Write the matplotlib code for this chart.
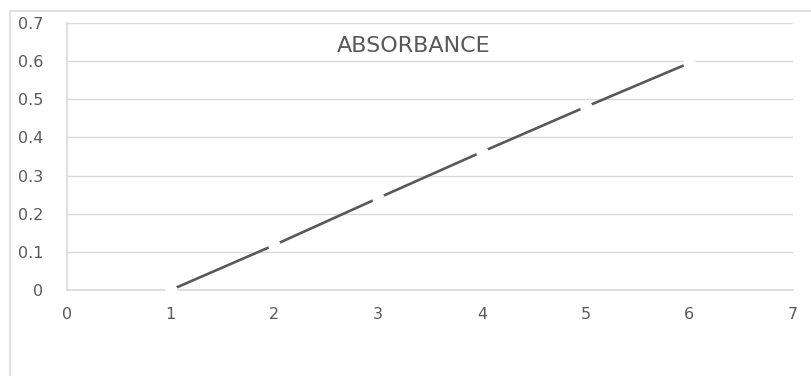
import matplotlib.pyplot as plt
from matplotlib.patches import Rectangle
from matplotlib.transforms import Affine2D

# data
x_values = [1, 2, 3, 4, 5, 6]
absorbance = [0.0, 0.118, 0.241, 0.362, 0.480, 0.595]
x_ticks = [0, 1, 2, 3, 4, 5, 6, 7]
y_ticks = [0, 0.1, 0.2, 0.3, 0.4, 0.5, 0.6, 0.7]
y_labels = ['0', '0.1', '0.2', '0.3', '0.4', '0.5', '0.6', '0.7']

text_col = '#595959'
grid_col = '#d9d9d9'

plt.rcParams['font.family'] = ['DejaVu Sans']

fig = plt.figure(figsize=(8.12, 3.76), dpi=100)
ax = fig.add_axes([67 / 812, 1 - 290 / 376, (793 - 67) / 812, (290 - 23) / 376])

# chart border (cut off at right and bottom in the reference)
fig.patches.append(Rectangle((10 / 812, -0.1), 1.2, (376 - 11) / 376 + 0.1,
                             transform=fig.transFigure, fill=False,
                             edgecolor=grid_col, lw=1.2))

ax.plot(x_values, absorbance, color=text_col, lw=1.9, marker='o', markersize=8,
        markerfacecolor='white', markeredgecolor='white', clip_on=False, zorder=5)

ax.set_xlim(0, 7)
ax.set_ylim(0, 0.7)
ax.set_xticks(x_ticks)
ax.set_yticks(y_ticks)
ax.set_yticklabels(y_labels)
ax.tick_params(length=0, colors=text_col, labelsize=11.5)
ax.tick_params(axis='y', pad=17)
ax.tick_params(axis='x', pad=12.5)
ax.grid(axis='y', color=grid_col, lw=1)
ax.set_axisbelow(True)
for side in ['top', 'right']:
    ax.spines[side].set_visible(False)
for side in ['left', 'bottom']:
    ax.spines[side].set_color(grid_col)
    ax.spines[side].set_linewidth(1.2)

# title inside the plot area, placed in figure pixels (origin top-left)
pix = Affine2D().scale(1, -1).translate(0, 376)
ax.text(414, 45.5, 'ABSORBANCE', transform=pix, fontsize=16, color=text_col,
        ha='center', va='center')

fig.savefig('out.png', dpi=100)
